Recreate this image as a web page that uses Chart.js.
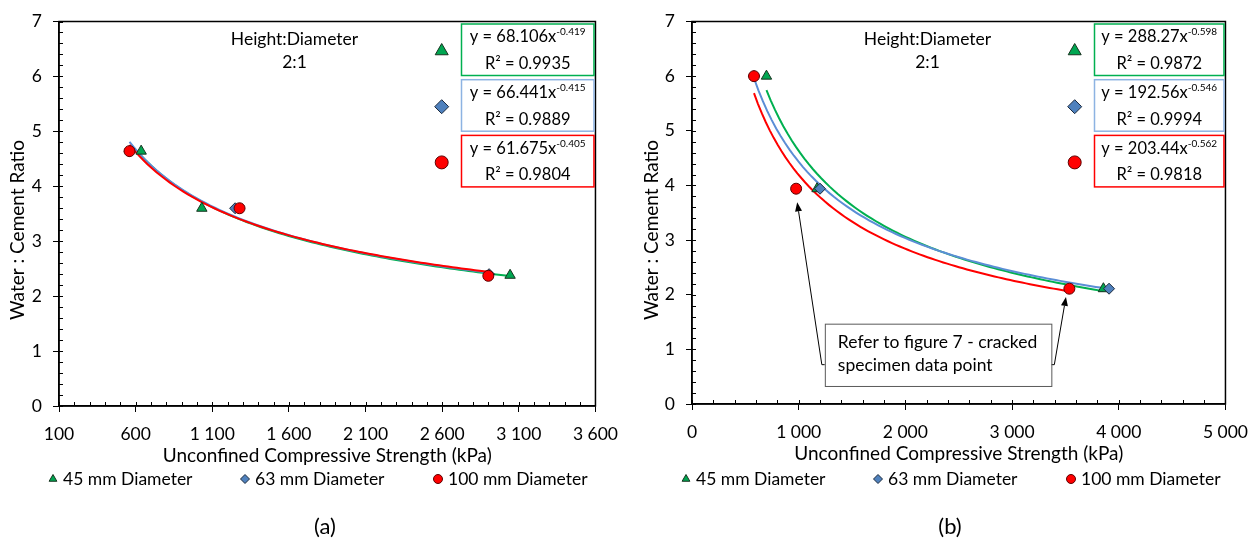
<!DOCTYPE html>
<html>
<head>
<meta charset="utf-8">
<script src="https://cdn.jsdelivr.net/npm/chart.js@4/dist/chart.umd.min.js"></script>
<style>
  html, body { margin: 0; padding: 0; background: #fff; }
  #wrap { display: flex; width: 1260px; height: 545px; }
  canvas { display: block; }
</style>
</head>
<body>
<div id="wrap">
  <canvas id="chartA" width="630" height="545"></canvas>
  <canvas id="chartB" width="630" height="545"></canvas>
</div>
<script>
// ---- data ----
const seriesLabels = ['45 mm Diameter', '63 mm Diameter', '100 mm Diameter'];

// (a) strength in kPa, water : cement ratio
const aStrength45 = [636, 1032, 3043];
const aRatio45 = [4.64, 3.60, 2.38];
const aStrength63 = [560, 1249, 2906];
const aRatio63 = [4.64, 3.60, 2.40];
const aStrength100 = [560, 1278, 2901];
const aRatio100 = [4.64, 3.60, 2.37];

// power-law trendlines y = a * x^b
const aFitCoef = [68.106, 66.441, 61.675];
const aFitExp = [-0.419, -0.415, -0.405];
const aFitR2 = ['0.9935', '0.9889', '0.9804'];

// (b)
const bStrength45 = [698, 1172, 3856];
const bRatio45 = [6.00, 3.94, 2.11];
const bStrength63 = [581, 1200, 3909];
const bRatio63 = [6.00, 3.94, 2.11];
const bStrength100 = [581, 976, 3537];
const bRatio100 = [6.00, 3.94, 2.11];

const bFitCoef = [288.27, 192.56, 203.44];
const bFitExp = [-0.598, -0.546, -0.562];
const bFitR2 = ['0.9872', '0.9994', '0.9818'];

// axis ticks
const aXTicks = [100, 600, 1100, 1600, 2100, 2600, 3100, 3600];
const bXTicks = [0, 1000, 2000, 3000, 4000, 5000];
const yTicks = [0, 1, 2, 3, 4, 5, 6, 7];

const xTitle = 'Unconfined Compressive Strength (kPa)';
const yTitle = 'Water : Cement Ratio';
const calloutLines = ['Refer to figure 7 - cracked', 'specimen data point'];

// ---- styles ----
const FONT = 'Lato, "Open Sans", sans-serif';
const TXT = 17.5;
Chart.defaults.font.family = FONT;
Chart.defaults.font.size = TXT;
Chart.defaults.color = '#000';

const markerStyles = [
  { pointStyle: 'triangle', fill: '#00A651', edge: '#17331f', r: 6 },
  { pointStyle: 'rectRot', fill: '#4F81BD', edge: '#1c2a3d', r: 5.5 },
  { pointStyle: 'circle', fill: '#FF0000', edge: '#5c0000', r: 5.5 }
];
const trendColors = ['#00B050', '#5B8ED6', '#FF0000'];
const boxColors = ['#00B050', '#8DB3E2', '#FF0000'];

const spaced = v => String(v).replace(/\B(?=(\d{3})+(?!\d))/g, ' ');

function trendPoints(xs, coef, exp) {
  const lo = Math.min(...xs), hi = Math.max(...xs);
  const pts = [];
  for (let i = 0; i <= 80; i++) {
    const x = lo + (hi - lo) * i / 80;
    pts.push({ x, y: coef * Math.pow(x, exp) });
  }
  return pts;
}

function drawArrow(ctx, x0, y0, x1, y1) {
  const ang = Math.atan2(y1 - y0, x1 - x0);
  const len = 9, half = 3.5;
  const bx = x1 - Math.cos(ang) * len, by = y1 - Math.sin(ang) * len;
  ctx.beginPath();
  ctx.moveTo(x0, y0);
  ctx.lineTo(bx, by);
  ctx.stroke();
  ctx.beginPath();
  ctx.moveTo(x1, y1);
  ctx.lineTo(bx + Math.sin(ang) * half, by - Math.cos(ang) * half);
  ctx.lineTo(bx - Math.sin(ang) * half, by + Math.cos(ang) * half);
  ctx.closePath();
  ctx.fill();
}

function marker(ctx, i, x, y, r) {
  const s = markerStyles[i];
  ctx.fillStyle = s.fill;
  ctx.strokeStyle = s.edge;
  ctx.lineWidth = 1;
  Chart.helpers.drawPoint(ctx, { pointStyle: s.pointStyle, radius: r, rotation: 0, borderWidth: 1 }, x, y);
}

// frame, inner ticks, equation boxes, legend and notes
const decorPlugin = {
  id: 'decor',
  afterDraw(chart, args, o) {
    const { ctx, chartArea: a, scales: { x, y } } = chart;
    ctx.save();

    ctx.strokeStyle = '#000';
    ctx.lineWidth = 1.5;
    ctx.strokeRect(a.left, a.top, a.right - a.left, a.bottom - a.top);

    ctx.lineWidth = 1;
    ctx.beginPath();
    const nx = Math.round((x.max - x.min) / o.minorX);
    for (let i = 0; i <= nx; i++) {
      const px = Math.round(x.getPixelForValue(x.min + i * o.minorX)) + 0.5;
      ctx.moveTo(px, a.bottom);
      ctx.lineTo(px, a.bottom - 4);
    }
    const ny = Math.round((y.max - y.min) / 0.2);
    for (let i = 0; i <= ny; i++) {
      const py = Math.round(y.getPixelForValue(y.min + i * 0.2)) + 0.5;
      ctx.moveTo(a.left, py);
      ctx.lineTo(a.left + 4, py);
    }
    ctx.stroke();

    // y axis title
    ctx.fillStyle = '#000';
    ctx.textAlign = 'center';
    ctx.textBaseline = 'middle';
    ctx.font = '19px ' + FONT;
    ctx.save();
    ctx.translate(o.yTitleX, 230);
    ctx.rotate(-Math.PI / 2);
    ctx.fillText(yTitle, 0, 0);
    ctx.restore();

    ctx.font = TXT + 'px ' + FONT;
    ctx.fillText('Height:Diameter', a.left + 235.5, 39);
    ctx.fillText('2:1', a.left + 235.5, 62);

    // trendline equation boxes
    for (let i = 0; i < 3; i++) {
      const top = a.top + 2.5 + i * 55.7;
      const left = a.left + 402.5, right = a.right - 1.5;
      ctx.fillStyle = '#fff';
      ctx.fillRect(left, top, right - left, 51.5);
      ctx.strokeStyle = boxColors[i];
      ctx.lineWidth = 1.5;
      ctx.strokeRect(left, top, right - left, 51.5);

      const cx = (left + right) / 2;
      const main = 'y = ' + o.coef[i] + 'x';
      const sup = String(o.exp[i]);
      ctx.font = '16.5px ' + FONT;
      const wm = ctx.measureText(main).width;
      ctx.font = '10px ' + FONT;
      const ws = ctx.measureText(sup).width;
      const sx = cx - (wm + ws) / 2;
      ctx.fillStyle = '#000';
      ctx.textAlign = 'left';
      ctx.font = '16.5px ' + FONT;
      ctx.fillText(main, sx, top + 13);
      ctx.font = '10px ' + FONT;
      ctx.fillText(sup, sx + wm, top + 8);
      ctx.font = '16.5px ' + FONT;
      ctx.textAlign = 'center';
      ctx.fillText('R\u00B2 = ' + o.r2[i], cx, top + 39.5);

      const big = [7.5, 7, 6.5][i];
      marker(ctx, i, a.left + 382.7, top + 27, big);
    }

    // bottom legend
    const lx = [-6, 186, 379];
    for (let i = 0; i < 3; i++) {
      const mx = a.left + lx[i];
      marker(ctx, i, mx, 479, 4.5);
      ctx.fillStyle = '#000';
      ctx.textAlign = 'left';
      ctx.font = TXT + 'px ' + FONT;
      ctx.fillText(seriesLabels[i], mx + 10, 479);
    }

    ctx.textAlign = 'center';
    ctx.font = '22px ' + FONT;
    ctx.fillText(o.panel, o.panelX, 527);

    if (o.callout) {
      const c = o.callout;
      const L = x.getPixelForValue(c.xMin), R = x.getPixelForValue(c.xMax);
      const T = y.getPixelForValue(c.yMax), B = y.getPixelForValue(c.yMin);
      const ty = y.getPixelForValue(c.tailY);
      ctx.strokeStyle = '#000';
      ctx.fillStyle = '#000';
      ctx.lineWidth = 1;
      ctx.beginPath();
      ctx.moveTo(L, ty); ctx.lineTo(L - 3, ty);
      ctx.moveTo(R, ty); ctx.lineTo(R + 3, ty);
      ctx.stroke();
      drawArrow(ctx, L - 3, ty, x.getPixelForValue(c.tips[0].x), y.getPixelForValue(c.tips[0].y));
      drawArrow(ctx, R + 3, ty, x.getPixelForValue(c.tips[1].x), y.getPixelForValue(c.tips[1].y));

      ctx.fillStyle = '#fff';
      ctx.fillRect(L, T, R - L, B - T);
      ctx.strokeStyle = '#595959';
      ctx.strokeRect(L + 0.5, T + 0.5, R - L, B - T);
      ctx.fillStyle = '#000';
      ctx.textAlign = 'left';
      ctx.font = TXT + 'px ' + FONT;
      ctx.fillText(calloutLines[0], L + 13, T + 18.5);
      ctx.fillText(calloutLines[1], L + 13, T + 42);
    }
    ctx.restore();
  }
};

function buildChart(id, p) {
  const xs = [p.s45, p.s63, p.s100];
  const ys = [p.r45, p.r63, p.r100];
  const datasets = [];
  // markers: the 100 mm series first so it sits on top
  for (const i of [2, 1, 0]) {
    const s = markerStyles[i];
    datasets.push({
      label: seriesLabels[i],
      data: xs[i].map((v, k) => ({ x: v, y: ys[i][k] })),
      pointStyle: s.pointStyle,
      pointRadius: s.r,
      pointBackgroundColor: s.fill,
      pointBorderColor: s.edge,
      pointBorderWidth: 1,
      showLine: false
    });
  }
  for (const i of [2, 1, 0]) {
    datasets.push({
      label: 'Power (' + seriesLabels[i] + ')',
      data: trendPoints(xs[i], p.coef[i], p.exp[i]),
      showLine: true,
      borderColor: trendColors[i],
      borderWidth: 2,
      pointRadius: 0,
      tension: 0,
      fill: false
    });
  }

  return new Chart(document.getElementById(id), {
    type: 'scatter',
    data: { datasets },
    plugins: [decorPlugin],
    options: {
      responsive: false,
      animation: false,
      devicePixelRatio: 1,
      layout: { padding: { top: 17, right: p.padRight, bottom: p.padBottom, left: 0 } },
      plugins: {
        legend: { display: false },
        tooltip: { enabled: false },
        decor: {
          minorX: p.minorX,
          coef: p.coef, exp: p.exp, r2: p.r2,
          panel: p.panel, panelX: p.panelX,
          yTitleX: p.yTitleX,
          callout: p.callout
        }
      },
      scales: {
        x: {
          type: 'linear',
          min: p.xTicks[0],
          max: p.xTicks[p.xTicks.length - 1],
          afterFit: s => { s.height = 61; },
          ticks: {
            stepSize: p.xTicks[1] - p.xTicks[0],
            padding: 12,
            maxRotation: 0,
            autoSkip: false,
            callback: v => spaced(v)
          },
          grid: { drawOnChartArea: false, tickLength: 6, color: '#000' },
          border: { color: '#000', width: 1.5 },
          title: {
            display: true,
            text: xTitle,
            font: { size: 19 },
            padding: { top: 0, bottom: 0 }
          }
        },
        y: {
          min: yTicks[0],
          max: yTicks[yTicks.length - 1],
          afterFit: s => { s.width = p.yWidth; },
          ticks: { stepSize: 1, padding: 11 },
          grid: { drawOnChartArea: false, tickLength: 6, color: '#000' },
          border: { color: '#000', width: 1.5 }
        }
      }
    }
  });
}

buildChart('chartA', {
  s45: aStrength45, r45: aRatio45,
  s63: aStrength63, r63: aRatio63,
  s100: aStrength100, r100: aRatio100,
  coef: aFitCoef, exp: aFitExp, r2: aFitR2,
  xTicks: aXTicks, minorX: 100,
  padRight: 34, padBottom: 78, yWidth: 59, yTitleX: 18,
  panel: '(a)', panelX: 325
});

buildChart('chartB', {
  s45: bStrength45, r45: bRatio45,
  s63: bStrength63, r63: bRatio63,
  s100: bStrength100, r100: bRatio100,
  coef: bFitCoef, exp: bFitExp, r2: bFitR2,
  xTicks: bXTicks, minorX: 200,
  padRight: 32, padBottom: 80, yWidth: 62, yTitleX: 22,
  panel: '(b)', panelX: 320,
  callout: {
    xMin: 1245, xMax: 3368, yMin: 0.33, yMax: 1.47, tailY: 0.72,
    tips: [{ x: 986, y: 3.69 }, { x: 3505, y: 1.96 }]
  }
});
</script>
</body>
</html>
